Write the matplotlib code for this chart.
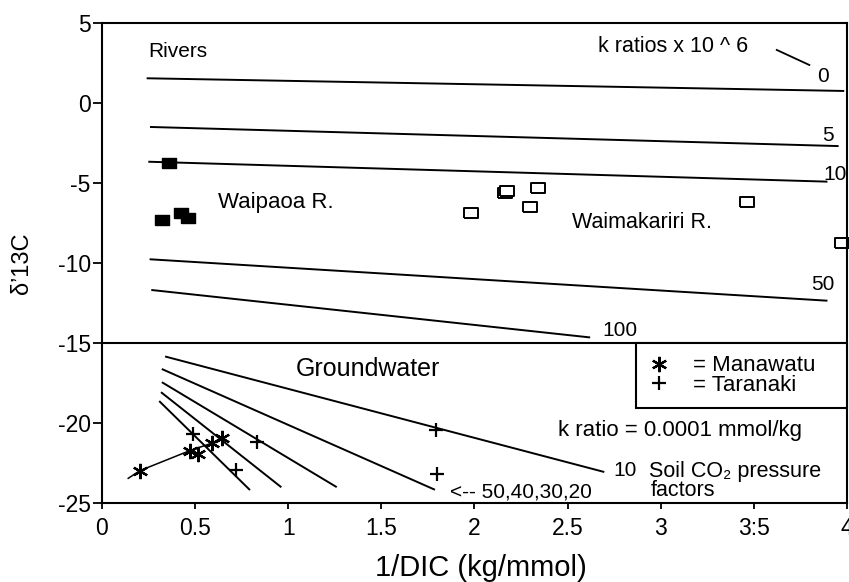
import numpy as np
import matplotlib
matplotlib.use("Agg")
import matplotlib.pyplot as plt

plt.rcParams['font.family'] = ['Liberation Sans', 'DejaVu Sans']
plt.rcParams['axes.unicode_minus'] = False

# rivers: k ratio lines (x 10^6), start and end points
k_ratios = ['0', '5', '10', '50', '100']
k_line_x = [[0.245, 3.98], [0.263, 3.95], [0.254, 3.89], [0.261, 3.89], [0.27, 2.616]]
k_line_y = [[1.53, 0.74], [-1.51, -2.70], [-3.68, -4.92], [-9.77, -12.35], [-11.69, -14.64]]

waipaoa_x = [0.361, 0.321, 0.424, 0.463]
waipaoa_y = [-3.78, -7.32, -6.90, -7.17]

waimak_x = [1.980, 2.164, 2.177, 2.298, 2.343, 3.461, 3.972]
waimak_y = [-6.90, -5.65, -5.51, -6.49, -5.34, -6.17, -8.77]

# groundwater: soil CO2 pressure factor lines
soil_factors = [10, 20, 30, 40, 50]
soil_line_x = [[0.344, 2.692], [0.326, 1.783], [0.326, 1.256], [0.321, 0.959], [0.311, 0.791]]
soil_line_y = [[-15.85, -23.03], [-16.64, -24.13], [-17.47, -23.96], [-18.10, -23.96], [-18.66, -24.13]]

manawatu_x = [0.204, 0.472, 0.517, 0.589, 0.643]
manawatu_y = [-22.96, -21.71, -21.92, -21.25, -20.94]
manawatu_line_x = [0.141, 0.204, 0.472, 0.589, 0.643]
manawatu_line_y = [-23.44, -22.96, -21.71, -21.25, -20.94]

taranaki_x = [0.49, 0.83, 0.72, 1.793, 1.797]
taranaki_y = [-20.67, -21.2, -22.9, -20.42, -23.17]

xticks = [0, 0.5, 1, 1.5, 2, 2.5, 3, 3.5, 4]
xtick_labels = ['0', '0.5', '1', '1.5', '2', '2.5', '3', '3:5', '4']
yticks = [-25, -20, -15, -10, -5, 0, 5]
ytick_labels = ['-25', '-20', '-15', '-10', '-5', '0', '5']

fig = plt.figure(figsize=(8.49, 5.82), dpi=100)
ax = fig.add_axes([0.1201, 0.1352, 0.8775, 0.8258])

lw = 1.4
for xs, ys in zip(k_line_x, k_line_y):
    ax.plot(xs, ys, color='black', lw=lw)
for xs, ys in zip(soil_line_x, soil_line_y):
    ax.plot(xs, ys, color='black', lw=lw)

ax.axhline(-15, color='black', lw=1.5)

rect_filled = [(-7, -5.5), (7, -5.5), (7, 5.5), (-7, 5.5), (-7, -5.5)]
rect_open = [(-6.5, -4.7), (6.5, -4.7), (6.5, 4.7), (-6.5, 4.7), (-6.5, -4.7)]
ax.plot(waipaoa_x, waipaoa_y, ls='none', marker=rect_filled, ms=10, color='black')
ax.plot(waimak_x, waimak_y, ls='none', marker=rect_open, ms=9.5,
        mfc='white', mec='black', mew=1.4, clip_on=False)

ax.plot(manawatu_line_x, manawatu_line_y, color='black', lw=1.1)
man, = ax.plot(manawatu_x, manawatu_y, ls='none', marker=(6, 2, 0), ms=11,
               color='black', mew=1.6, label='= Manawatu')
tar, = ax.plot(taranaki_x, taranaki_y, ls='none', marker='+', ms=10,
               color='black', mew=1.6, label='= Taranaki')

# annotations
ax.text(0.249, 3.34, 'Rivers', fontsize=15, ha='left', va='center_baseline')
ax.text(2.663, 3.64, 'k ratios x 10 ^ 6', fontsize=15.5, ha='left', va='center_baseline')
ax.plot([3.623, 3.798], [3.30, 2.36], color='black', lw=1.3)
k_label_pos = [(3.873, 1.74), (3.90, -1.90), (3.935, -4.36), (3.873, -11.23), (2.781, -14.08)]
for lab, (tx, ty) in zip(k_ratios, k_label_pos):
    ax.text(tx, ty, lab, fontsize=15, ha='center', va='center_baseline')
ax.text(0.623, -6.07, 'Waipaoa R.', fontsize=16, ha='left', va='center_baseline')
ax.text(2.522, -7.32, 'Waimakariri R.', fontsize=15.5, ha='left', va='center_baseline')
ax.text(1.426, -16.47, 'Groundwater', fontsize=18, ha='center', va='center_baseline')
ax.text(2.45, -20.32, 'k ratio = 0.0001 mmol/kg', fontsize=16, ha='left', va='center_baseline')
ax.text(2.745, -22.85, '10', fontsize=15, ha='left', va='center_baseline')
ax.text(2.937, -22.85, 'Soil CO₂ pressure', fontsize=15.5, ha='left', va='center_baseline')
ax.text(2.946, -24.05, 'factors', fontsize=15.5, ha='left', va='center_baseline')
ax.text(1.868, -24.17, '<-- 50,40,30,20', fontsize=15, ha='left', va='center_baseline')

leg = ax.legend(handles=[man, tar], loc='upper left',
                bbox_to_anchor=(0.717, 0.198, 0.283, 0.1353), mode='expand',
                borderaxespad=0, fontsize=16, labelspacing=-0.05, borderpad=0.55,
                handlelength=1.0, handletextpad=1.0, fancybox=False,
                edgecolor='black', framealpha=1)
leg.get_frame().set_linewidth(1.5)

ax.set_xlim(0, 4)
ax.set_ylim(-25, 5)
ax.set_xticks(xticks)
ax.set_xticklabels(xtick_labels)
ax.set_yticks(yticks)
ax.set_yticklabels(ytick_labels)
ax.tick_params(axis='x', direction='out', length=4.5, width=1.3, pad=5, labelsize=16.5)
ax.tick_params(axis='y', direction='out', length=6.5, width=1.3, pad=1.5, labelsize=16.5)
for s in ax.spines.values():
    s.set_linewidth(1.5)

ax.set_xlabel('1/DIC (kg/mmol)', fontsize=21)
ax.xaxis.set_label_coords(0.509, -0.1346)
ax.xaxis.label.set_va('center')
ax.set_ylabel('δ’13C', fontsize=17)
ax.yaxis.set_label_coords(-0.0926, 0.5)

fig.savefig('out.png', dpi=100)
